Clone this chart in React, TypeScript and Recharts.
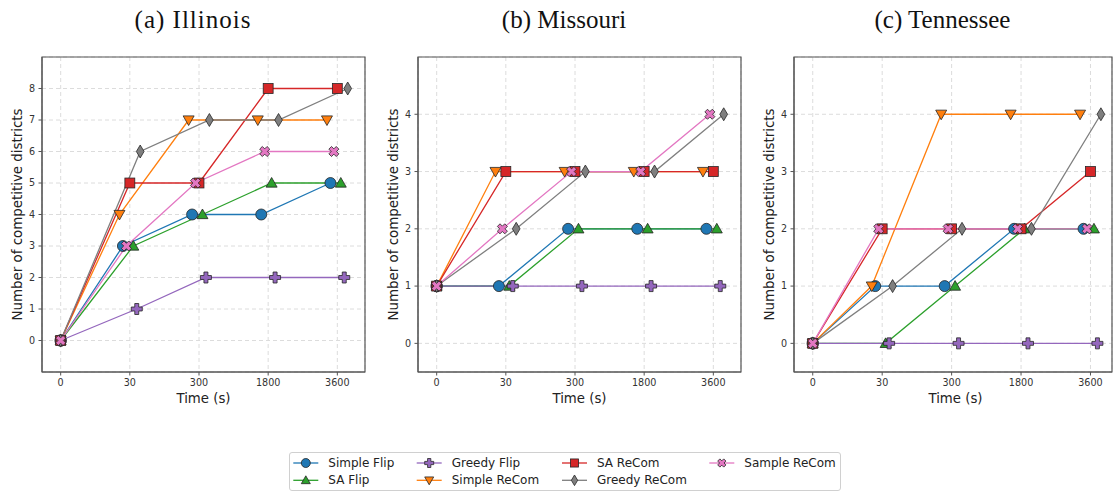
import React from "react";
import { ComposedChart, Line, XAxis, YAxis, CartesianGrid, ReferenceArea } from "recharts";

// time budgets (categorical x positions 0..4)
const TIME_LABELS = ["0", "30", "300", "1800", "3600"];
const TIME_POS = [0, 1, 2, 3, 4];

const SERIES_NAMES = [
  "Simple Flip",
  "SA Flip",
  "Greedy Flip",
  "Simple ReCom",
  "SA ReCom",
  "Greedy ReCom",
  "Sample ReCom",
];

// competitive districts per series (rows follow SERIES_NAMES)
const illinoisValues = [
  [0, 3, 4, 4, 5],
  [0, 3, 4, 5, 5],
  [0, 1, 2, 2, 2],
  [0, 4, 7, 7, 7],
  [0, 5, 5, 8, 8],
  [0, 6, 7, 7, 8],
  [0, 3, 5, 6, 6],
];

const missouriValues = [
  [1, 1, 2, 2, 2],
  [1, 1, 2, 2, 2],
  [1, 1, 1, 1, 1],
  [1, 3, 3, 3, 3],
  [1, 3, 3, 3, 3],
  [1, 2, 3, 3, 4],
  [1, 2, 3, 3, 4],
];

const tennesseeValues = [
  [0, 1, 1, 2, 2],
  [0, 0, 1, 2, 2],
  [0, 0, 0, 0, 0],
  [0, 1, 4, 4, 4],
  [0, 2, 2, 2, 3],
  [0, 1, 2, 2, 4],
  [0, 2, 2, 2, 2],
];

const illinoisTicks = [0, 1, 2, 3, 4, 5, 6, 7, 8];
const smallTicks = [0, 1, 2, 3, 4];

// look of each series
const STYLES = [
  { color: "#1f77b4", shape: "circle", jitter: -0.1 },
  { color: "#2ca02c", shape: "triUp", jitter: 0.05 },
  { color: "#9467bd", shape: "plus", jitter: 0.1 },
  { color: "#ff7f0e", shape: "triDown", jitter: -0.15 },
  { color: "#d62728", shape: "square", jitter: 0 },
  { color: "#7f7f7f", shape: "diamond", jitter: 0.15 },
  { color: "#e377c2", shape: "cross", jitter: -0.05 },
];

const EDGE = "#262626";
const PLOT_TOP = 57;
const PLOT_H = 315;
const Y_W = 42;
const X_H = 60;
const FONT = "'DejaVu Sans', sans-serif";

function Marker({ shape, cx, cy, color, s = 11 }: { shape: string; cx: number; cy: number; color: string; s?: number }) {
  const h = s / 2;
  const common = { fill: color, stroke: EDGE, strokeWidth: 0.8 };
  if (shape === "circle") return <circle cx={cx} cy={cy} r={h} {...common} />;
  if (shape === "square") {
    const q = h * 0.9;
    return <rect x={cx - q} y={cy - q} width={2 * q} height={2 * q} {...common} />;
  }
  if (shape === "triUp")
    return <polygon points={`${cx},${cy - h} ${cx + h},${cy + h * 0.75} ${cx - h},${cy + h * 0.75}`} {...common} />;
  if (shape === "triDown")
    return <polygon points={`${cx},${cy + h} ${cx + h},${cy - h * 0.75} ${cx - h},${cy - h * 0.75}`} {...common} />;
  if (shape === "diamond") {
    const w = h * 0.7;
    const v = h * 1.18;
    return <polygon points={`${cx},${cy - v} ${cx + w},${cy} ${cx},${cy + v} ${cx - w},${cy}`} {...common} />;
  }
  // filled plus / filled x
  const a = h * 0.36;
  const pts = [
    [-a, -h], [a, -h], [a, -a], [h, -a], [h, a], [a, a],
    [a, h], [-a, h], [-a, a], [-h, a], [-h, -a], [-a, -a],
  ];
  const ang = shape === "cross" ? Math.PI / 4 : 0;
  const k = shape === "cross" ? 0.95 : 1;
  const str = pts
    .map(([x, y]) => {
      const rx = (x * Math.cos(ang) - y * Math.sin(ang)) * k;
      const ry = (x * Math.sin(ang) + y * Math.cos(ang)) * k;
      return `${cx + rx},${cy + ry}`;
    })
    .join(" ");
  return <polygon points={str} {...common} />;
}

interface PanelProps {
  values: number[][];
  left: number;
  width: number;
  xDomain: [number, number];
  yDomain: [number, number];
  yTicks: number[];
}

function Panel({ values, left, width, xDomain, yDomain, yTicks }: PanelProps) {
  const rows = STYLES.map((st, si) =>
    TIME_POS.map((t, i) => ({ x: i === 0 ? t : t + st.jitter, y: values[si][i] }))
  );
  const tick = { fill: "#333", fontSize: 9.6, fontFamily: FONT };
  return (
    <div style={{ position: "absolute", left: left - Y_W, top: 0 }}>
      <ComposedChart
        width={Y_W + width + 4}
        height={PLOT_TOP + PLOT_H + X_H}
        margin={{ top: PLOT_TOP, right: 4, bottom: 0, left: 0 }}
      >
        <CartesianGrid stroke="#dcdcdc" strokeDasharray="4 3" />
        <XAxis
          type="number"
          dataKey="x"
          domain={xDomain}
          ticks={TIME_POS}
          tickFormatter={(v: number) => TIME_LABELS[v]}
          allowDataOverflow
          height={X_H}
          tick={tick}
          tickSize={3.5}
          tickMargin={3.5}
          axisLine={{ stroke: "#555" }}
          tickLine={{ stroke: "#555" }}
        />
        <YAxis
          type="number"
          domain={yDomain}
          ticks={yTicks}
          allowDataOverflow
          width={Y_W}
          tick={tick}
          tickSize={3.5}
          tickMargin={3.5}
          axisLine={{ stroke: "#555" }}
          tickLine={{ stroke: "#555" }}
        />
        <ReferenceArea
          x1={xDomain[0]}
          x2={xDomain[1]}
          y1={yDomain[0]}
          y2={yDomain[1]}
          fill="none"
          stroke="#555"
          strokeWidth={1.2}
          ifOverflow="visible"
        />
        {STYLES.map((st, si) => (
          <Line
            key={SERIES_NAMES[si]}
            data={rows[si]}
            dataKey="y"
            stroke={st.color}
            strokeWidth={1.3}
            isAnimationActive={false}
            activeDot={false}
            dot={(p: any) => (
              <Marker key={`${si}-${p.index}`} shape={st.shape} cx={p.cx} cy={p.cy} color={st.color} />
            )}
          />
        ))}
      </ComposedChart>
    </div>
  );
}

const PANELS = [
  { title: "(a) Illinois", titleX: 193, titleSpacing: 1, left: 42, width: 323, values: illinoisValues, xDomain: [-0.27, 4.4] as [number, number], yDomain: [-1, 9] as [number, number], yTicks: illinoisTicks },
  { title: "(b) Missouri", titleX: 564, titleSpacing: 0, left: 418, width: 323, values: missouriValues, xDomain: [-0.27, 4.4] as [number, number], yDomain: [-0.5, 5] as [number, number], yTicks: smallTicks },
  { title: "(c) Tennessee", titleX: 942.5, titleSpacing: 0, left: 794, width: 318, values: tennesseeValues, xDomain: [-0.27, 4.31] as [number, number], yDomain: [-0.5, 5] as [number, number], yTicks: smallTicks },
];

// legend columns (matplotlib ncol=4 column-major order), offsets inside the box
const LEGEND_COLS = [4.3, 127.7, 273, 420.3];
const LEGEND_ROWS = [11, 28.3];

export default function App() {
  return (
    <div style={{ position: "absolute", left: 0, top: 0, width: 1113, height: 492, background: "#fff", overflow: "hidden" }}>
      {PANELS.map((p) => (
        <Panel key={p.title} values={p.values} left={p.left} width={p.width} xDomain={p.xDomain} yDomain={p.yDomain} yTicks={p.yTicks} />
      ))}
      <svg width={1113} height={450} style={{ position: "absolute", left: 0, top: 0, pointerEvents: "none" }}>
        {PANELS.map((p) => (
          <g key={p.title}>
            <text
              x={p.titleX}
              y={28}
              textAnchor="middle"
              fontFamily="'Liberation Serif', serif"
              fontSize={25}
              letterSpacing={p.titleSpacing}
              fill="#111"
            >
              {p.title}
            </text>
            <text
              x={p.left + p.width / 2 + (p.width === 318 ? 2.5 : 0)}
              y={398}
              textAnchor="middle"
              dominantBaseline="central"
              fontFamily={FONT}
              fontSize={13.3}
              fill="#222"
            >
              Time (s)
            </text>
            <text
              transform={`translate(${p.left - 25},${PLOT_TOP + PLOT_H / 2}) rotate(-90)`}
              textAnchor="middle"
              dominantBaseline="central"
              fontFamily={FONT}
              fontSize={13.4}
              fill="#222"
            >
              Number of competitive districts
            </text>
          </g>
        ))}
      </svg>
      <div
        style={{
          position: "absolute",
          left: 289,
          top: 452,
          width: 552,
          height: 39,
          border: "1px solid #d0d0d0",
          borderRadius: 3,
          background: "#fff",
          boxSizing: "border-box",
        }}
      >
        <svg width={552} height={39} style={{ position: "absolute", left: -1, top: -1 }}>
          {SERIES_NAMES.map((name, i) => {
            const x = LEGEND_COLS[Math.floor(i / 2)];
            const y = LEGEND_ROWS[i % 2];
            const st = STYLES[i];
            return (
              <g key={name}>
                <line x1={x} x2={x + 25} y1={y} y2={y} stroke={st.color} strokeWidth={1.3} />
                <Marker shape={st.shape} cx={x + 12.5} cy={y} color={st.color} s={9} />
                <text x={x + 35} y={y} dominantBaseline="central" fontFamily={FONT} fontSize={12} fill="#222">
                  {name}
                </text>
              </g>
            );
          })}
        </svg>
      </div>
    </div>
  );
}
